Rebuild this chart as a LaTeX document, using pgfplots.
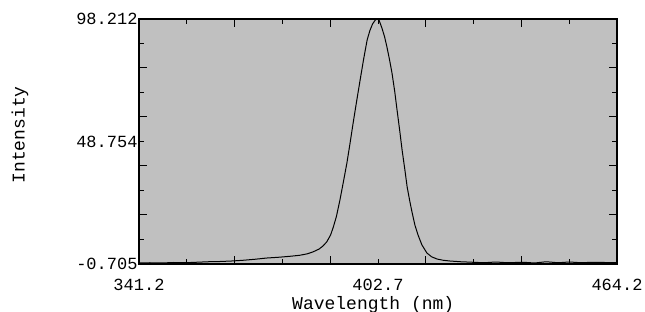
\documentclass[border=0pt]{standalone}
\usepackage{pgfplots}
\pgfplotsset{compat=1.18}
\usepackage{fontspec}
\newfontfamily\mono{Liberation Mono}
\definecolor{bggray}{HTML}{C0C0C0}
\begin{document}
\begin{tikzpicture}[x=1pt,y=1pt]
\path[use as bounding box] (0,0) rectangle (645,312);
\begin{axis}[
  at={(139pt,48pt)}, anchor=south west,
  width=478pt, height=245pt, scale only axis,
  xmin=341.2, xmax=464.2, ymin=-0.705, ymax=98.212,
  axis background/.style={fill=bggray},
  axis line style={black, line width=1.3pt},
  tick align=inside, tick pos=both,
  tick style={black, line width=1pt},
  major tick length=5pt, minor tick length=5pt,
  xtick={341.2,402.7,464.2}, xticklabels={341.2,402.7,464.2},
  ytick={-0.705,48.754,98.212}, yticklabels={-0.705,48.754,98.212},
  minor xtick={353.5,378.1,427.3,451.9},
  minor ytick={9.187,28.970,68.537,88.320},
  extra x ticks={365.8,390.4,415.0,439.6}, extra x tick labels={},
  extra y ticks={19.078,38.862,58.645,78.429}, extra y tick labels={},
  extra tick style={major tick length=8pt},
  tick label style={font=\mono\fontsize{17}{17}\selectfont, black},
  xticklabel style={anchor=center, yshift=-21pt},
  yticklabel style={xshift=2pt},
  xlabel={Wavelength (nm)},
  ylabel={Intensity},
  every axis x label/.style={at={(axis description cs:0.49,-0.165)}, anchor=center, font=\mono\fontsize{18}{18}\selectfont},
  every axis y label/.style={at={(axis description cs:-0.249,0.527)}, anchor=center, rotate=90, font=\mono\fontsize{18}{18}\selectfont},
  clip=true,
]
\addplot[black, line width=1pt, mark=none] coordinates {
(341.2,-0.3) (344,-0.2) (347,-0.3) (350,-0.1) (353,-0.2) (356,0.0) (359,0.2)
(362,0.3) (365,0.5) (368,0.8) (371,1.2) (374,1.7) (377,2.0) (380,2.4)
(382.5,2.8) (384.5,3.4) (386,4.2) (387.5,5.3) (388.5,6.5) (389.5,8.2)
(390.5,11) (391.2,14.2) (392,18.5) (392.9,25.1) (393.8,32.5) (394.7,40.1)
(395.5,48) (396.3,56.2) (397.2,65) (398.1,73.6) (399,82) (399.9,89.7)
(400.6,93.5) (401.3,96.2) (402,97.8) (402.5,98.2) (403,97.6) (403.7,94.6)
(404.4,91) (405,86.9) (405.7,81.5) (406.3,76.4) (407,69) (407.6,61.5)
(408.3,53) (408.9,45.3) (409.6,37.5) (410.2,30.4) (410.9,24.5) (411.5,19.9)
(412.2,15) (413,11) (414,7) (415.3,3.7) (416.5,2.2) (417.9,1.3) (419.5,0.8)
(421.2,0.5) (424,0.2) (427,0.0) (430,-0.2) (433,0.1) (436,-0.2) (440,0.0)
(443,-0.3) (446,0.2) (449,-0.2) (452,0.1) (455,-0.2) (458,0.0) (461,-0.1)
(464.2,-0.2)
};
\end{axis}
\end{tikzpicture}
\end{document}
